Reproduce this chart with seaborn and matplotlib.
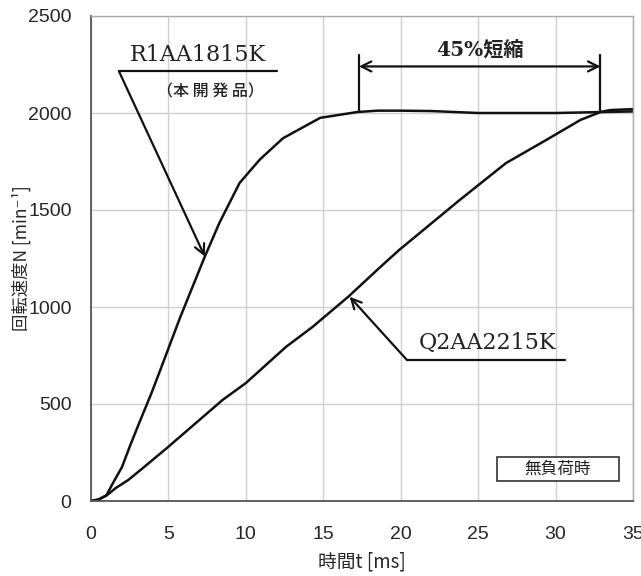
import matplotlib
matplotlib.use("Agg")
import matplotlib.pyplot as plt
from matplotlib import font_manager
from matplotlib.patches import Rectangle
import seaborn as sns
import pandas as pd

# Speed-rise curves (time in ms, speed in min^-1)
r_time = [0, 0.5, 1.0, 1.4, 2.0, 2.5, 3.1, 3.9, 4.45, 5.75, 7.35, 8.3, 9.6,
          10.9, 12.4, 14.8, 17.2, 18.5, 20, 22, 25, 28, 30, 33, 35]
r_speed = [0, 8, 30, 90, 175, 280, 400, 555, 670, 945, 1260, 1435, 1640,
           1760, 1870, 1975, 2005, 2012, 2012, 2010, 2000, 2000, 2000, 2005, 2008]

q_time = [0, 0.5, 1.0, 1.6, 2.4, 3.2, 4.9, 8.5, 10.0, 12.6, 14.3, 16.6, 18.6,
          19.9, 23.8, 26.8, 29.4, 31.6, 32.9, 33.5, 35]
q_speed = [0, 8, 28, 67, 108, 160, 273, 521, 608, 795, 897, 1052, 1200,
           1294, 1551, 1742, 1861, 1964, 2005, 2015, 2020]

models = ["R1AA1815K", "Q2AA2215K"]
x_ticks = [0, 5, 10, 15, 20, 25, 30, 35]
y_ticks = [0, 500, 1000, 1500, 2000, 2500]

# reach times used for the shortening bracket
t_fast, t_slow = 17.3, 32.9

df = pd.concat([
    pd.DataFrame({"t": r_time, "N": r_speed, "model": models[0]}),
    pd.DataFrame({"t": q_time, "N": q_speed, "model": models[1]}),
])

sns.set_style("white")


def pick(names):
    for n in names:
        try:
            font_manager.findfont(n, fallback_to_default=False)
            return n
        except Exception:
            continue
    return "DejaVu Sans"


jp = "Noto Sans CJK JP"
narrow = pick(["Liberation Sans Narrow", "Liberation Sans"])
serif = "DejaVu Serif"
plt.rcParams["font.family"] = [jp, "DejaVu Sans"]

fig = plt.figure(figsize=(6.41, 5.76), dpi=100)
ax = fig.add_axes([91 / 641, 1 - 501 / 576, 542 / 641, 485 / 576])

sns.lineplot(data=df, x="t", y="N", units="model", estimator=None,
             color="#111111", lw=1.8, ax=ax, legend=False, sort=False)

ax.set_xlim(0, 35)
ax.set_ylim(0, 2500)
ax.set_xticks(x_ticks)
ax.set_yticks(y_ticks)
ax.set_xticklabels([str(v) for v in x_ticks], fontfamily=narrow, fontsize=14)
ax.set_yticklabels([str(v) for v in y_ticks], fontfamily=narrow, fontsize=14)
ax.tick_params(axis="both", direction="in", length=5, width=1, color="#555555")
ax.tick_params(axis="x", pad=18)
ax.tick_params(axis="y", pad=14)
ax.grid(True, color="#cfcfcf", lw=1)
for side in ["left", "bottom"]:
    ax.spines[side].set_color("#555555")
    ax.spines[side].set_linewidth(1.3)
for side in ["top", "right"]:
    ax.spines[side].set_color("#aaaaaa")
    ax.spines[side].set_linewidth(1.0)

ax.set_xlabel("時間t [ms]", fontsize=13.5, family=[jp, "DejaVu Sans"], labelpad=6)
ax.set_ylabel("回転速度N [min⁻¹]", fontsize=12.5, family=[jp, "DejaVu Sans"], labelpad=-2)

arrow_kw = dict(arrowstyle="->", color="#111111", lw=1.6, mutation_scale=18,
                shrinkA=0, shrinkB=0)

# R1AA1815K leader
ax.plot([1.8, 12.0], [2216, 2216], color="#111111", lw=1.6)
ax.annotate("", xy=(7.35, 1260), xytext=(1.8, 2216), arrowprops=arrow_kw)
ax.text(6.9, 2300, models[0], fontfamily=serif, fontsize=16,
        ha="center", va="center", color="#222222")
ax.text(7.7, 2108, "（本 開 発 品）", fontsize=11.5, ha="center", va="center",
        color="#222222", fontweight="medium")

# Q2AA2215K leader
ax.plot([20.4, 30.6], [727, 727], color="#111111", lw=1.6)
ax.annotate("", xy=(16.7, 1053), xytext=(20.4, 727), arrowprops=arrow_kw)
ax.text(25.6, 816, models[1], fontfamily=serif, fontsize=16,
        ha="center", va="center", color="#222222")

# shortening bracket
for tx in (t_fast, t_slow):
    ax.plot([tx, tx], [2008, 2300], color="#111111", lw=1.6)
ax.annotate("", xy=(t_slow, 2240), xytext=(t_fast, 2240),
            arrowprops=dict(arrowstyle="<->", color="#111111", lw=1.6,
                            mutation_scale=18, shrinkA=0, shrinkB=0))
ax.text((t_fast + t_slow) / 2, 2328, "45%短縮", fontsize=14.5, ha="center",
        va="center", color="#222222", fontweight="bold",
        family=[serif, jp])

# condition box
ax.add_patch(Rectangle((26.2, 101), 7.9, 127, fc="white", ec="#333333",
                       lw=1.2, zorder=3))
ax.text(30.15, 164, "無負荷時", fontsize=12, ha="center", va="center",
        color="#222222", zorder=4)

fig.savefig("out.png", dpi=100)
